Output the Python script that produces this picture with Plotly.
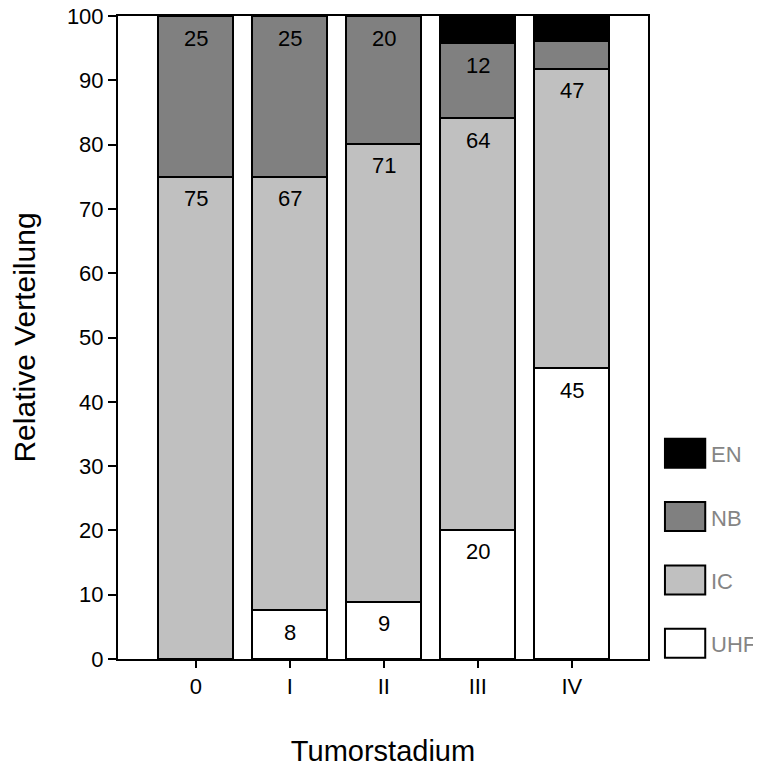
"""Relative Verteilung der Befunde nach Tumorstadium."""
import plotly.graph_objects as go

stages = ["0", "I", "II", "III", "IV"]

uhf = [0.0, 7.6, 8.9, 20.1, 45.2]
ic = [75.0, 67.4, 71.2, 64.0, 46.6]
nb = [25.0, 25.0, 19.9, 11.7, 4.3]
en = [0.0, 0.0, 0.0, 4.2, 3.9]

series_names = ["UHF", "IC", "NB", "EN"]
series_values = [uhf, ic, nb, en]
series_colors = ["#ffffff", "#c0c0c0", "#808080", "#000000"]

FONT = "Liberation Sans, Arial, sans-serif"

fig = go.Figure()
for name, values, color in zip(series_names, series_values, series_colors):
    fig.add_trace(
        go.Bar(
            x=stages,
            y=values,
            name=name,
            width=0.8,
            marker=dict(color=color, line=dict(color="black", width=2)),
            showlegend=False,
            hoverinfo="name+y",
        )
    )

# segment labels, placed just under the top of each segment
tops = [0.0] * len(stages)
for values in series_values:
    for i, v in enumerate(values):
        tops[i] += v
        if v >= 5:
            fig.add_annotation(
                x=stages[i],
                y=tops[i],
                text=str(round(v)),
                showarrow=False,
                yshift=-22,
                font=dict(family=FONT, size=22, color="black"),
            )

# legend drawn by hand: big swatches on the right, EN on top
for k, (name, color) in enumerate(zip(series_names, series_colors)):
    y0 = 0.002 + k * 0.0985
    fig.add_shape(
        type="rect",
        xref="paper",
        yref="paper",
        x0=1.032,
        x1=1.108,
        y0=y0,
        y1=y0 + 0.045,
        fillcolor=color,
        line=dict(color="black", width=2),
    )
    fig.add_annotation(
        xref="paper",
        yref="paper",
        x=1.116,
        y=y0 + 0.020,
        xanchor="left",
        yanchor="middle",
        text=name,
        showarrow=False,
        font=dict(family=FONT, size=22, color="#858585"),
    )

fig.update_layout(
    barmode="stack",
    width=761,
    height=767,
    margin=dict(l=110, r=121, t=8, b=116),
    paper_bgcolor="white",
    plot_bgcolor="white",
    font=dict(family=FONT, size=22, color="black"),
)
fig.update_xaxes(
    range=[-0.827, 4.81],
    automargin=False,
    showline=True,
    linecolor="black",
    linewidth=2,
    mirror=True,
    ticks="outside",
    ticklen=7,
    tickwidth=2,
    tickcolor="black",
    showgrid=False,
    title=dict(text="Tumorstadium", font=dict(size=29), standoff=42),
)
fig.update_yaxes(
    range=[0, 100],
    dtick=10,
    automargin=False,
    showline=True,
    linecolor="black",
    linewidth=2,
    mirror=True,
    ticks="outside",
    ticklen=8,
    tickwidth=2,
    tickcolor="black",
    ticklabeloverflow="allow",
    showgrid=False,
    zeroline=False,
    title=dict(text="Relative Verteilung", font=dict(size=30), standoff=30),
)

fig.write_html("out.html")
